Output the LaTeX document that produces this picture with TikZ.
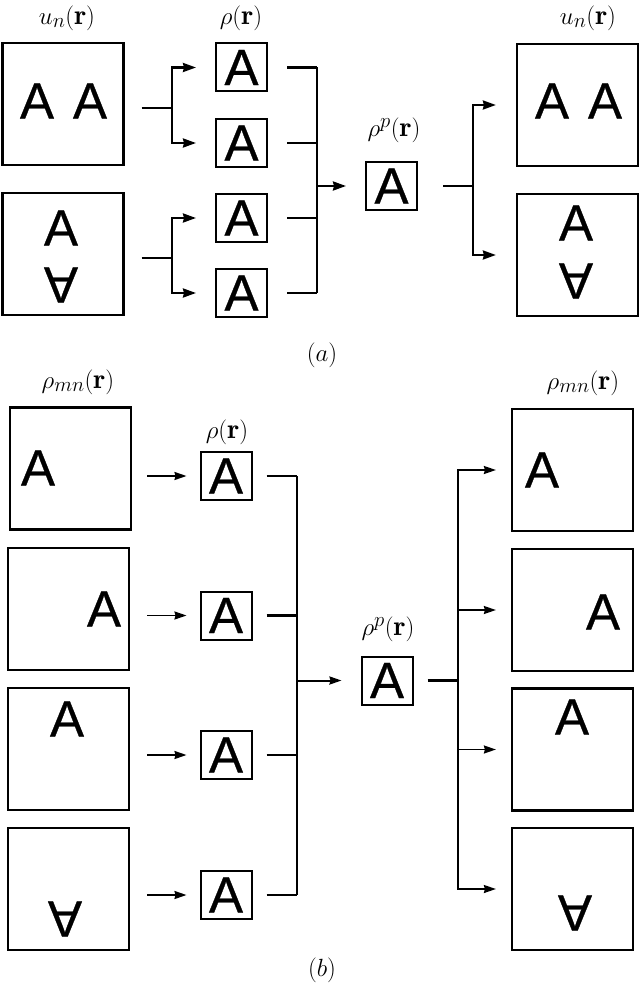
\documentclass[tikz,border=0pt]{standalone}
\usepackage{fontspec}
\usepackage{graphicx}
\newfontfamily\lettfont[FakeBold=0.6]{Liberation Sans}
\usetikzlibrary{arrows.meta,calc}
\newcommand{\bigA}{\lettfont\fontsize{51}{51}\selectfont A}
\newcommand{\flipA}{\rotatebox[origin=c]{180}{\lettfont\fontsize{51}{51}\selectfont A}}
\begin{document}
\begin{tikzpicture}[x=1pt,y=-1pt,
  bigbox/.style={draw,line width=2.2pt,minimum width=121pt,minimum height=122pt,inner sep=0pt},
  smallbox/.style={draw,line width=2pt,minimum width=51pt,minimum height=48pt,inner sep=0pt},
  letter/.style={inner sep=0pt},
  lab/.style={inner sep=0pt,font=\fontsize{28}{32}\selectfont},
  wire/.style={line width=2.3pt},
  arr/.style={line width=2.3pt,-{Stealth[length=13pt,width=9pt,inset=1pt]}},
  arrthin/.style={line width=1.7pt,-{Stealth[length=12pt,width=8pt,inset=1pt]}}
]
\useasboundingbox[fill=white] (0,0) rectangle (640,987);

% ---------------- (a) ----------------
\node[lab] (la1) at (67,18) {$u_n(\mathbf{r})$};
\node[lab] (la2) at (241,18) {$\rho(\mathbf{r})$};
\node[lab] (la3) at (394,130) {$\rho^p(\mathbf{r})$};
\node[lab] (la4) at (588,18) {$u_n(\mathbf{r})$};

\node[bigbox] (A1) at (63,104) {};
\node[bigbox] (A2) at (63,254) {};
\node[letter] (A1a) at (37,101) {\bigA};
\node[letter] (A1b) at (90,101) {\bigA};
\node[letter] (A2a) at (61,228) {\bigA};
\node[letter] (A2b) at (61,285) {\flipA};

\node[smallbox] (s1) at (241.5,67.5) {\bigA};
\node[smallbox] (s2) at (241.5,143) {\bigA};
\node[smallbox] (s3) at (241.5,218) {\bigA};
\node[smallbox] (s4) at (241.5,293) {\bigA};

\coordinate (j1) at (172,108);
\coordinate (j1b) at (172,258);
\draw[wire,shorten <=17pt] (A1.east |- j1) -- (j1);
\draw[wire] (s1.west -| j1) -- (s2.west -| j1);
\draw[arr,shorten >=19pt] (j1) |- (s1.west);
\draw[arr,shorten >=19pt] (j1) |- (s2.west);
\draw[wire,shorten <=17pt] (A2.east |- j1b) -- (j1b);
\draw[wire] (s3.west -| j1b) -- (s4.west -| j1b);
\draw[arr,shorten >=19pt] (j1b) |- (s3.west);
\draw[arr,shorten >=19pt] (j1b) |- (s4.west);

\node[smallbox] (P) at (391.5,186) {\bigA};
\coordinate (j2) at (317,186);
\foreach \s in {s1,s2,s3,s4}{
  \draw[wire,shorten <=19pt] (\s.east) -- (\s.east -| j2);
}
\draw[wire] (s1.east -| j2) -- (s4.east -| j2);
\draw[arr,shorten >=19pt] (j2) -- (P.west);

\node[bigbox] (R1) at (577.5,105) {};
\node[bigbox] (R2) at (577.5,255) {};
\node[letter] (R1a) at (552,101) {\bigA};
\node[letter] (R1b) at (605,101) {\bigA};
\node[letter] (R2a) at (576,223) {\bigA};
\node[letter] (R2b) at (576,281) {\flipA};

\coordinate (j3) at (473,186);
\draw[wire,shorten <=25pt] (P.east) -- (j3);
\draw[wire] (R1.west -| j3) -- (R2.west -| j3);
\draw[arr,shorten >=20pt] (j3) |- (R1.west);
\draw[arr,shorten >=20pt] (j3) |- (R2.west);

\node[lab] (capa) at (322,355) {$(a)$};

% ---------------- (b) ----------------
\node[lab] (lb1) at (78,382) {$\rho_{mn}(\mathbf{r})$};
\node[lab] (lb2) at (227,432) {$\rho(\mathbf{r})$};
\node[lab] (lb3) at (388,629) {$\rho^p(\mathbf{r})$};
\node[lab] (lb4) at (583,383) {$\rho_{mn}(\mathbf{r})$};

\node[bigbox] (L1) at (70.5,468.5) {};
\node[bigbox] (L2) at (68.5,609) {};
\node[bigbox] (L3) at (68.5,749) {};
\node[bigbox] (L4) at (68.5,889) {};
\node[letter] (L1a) at (38,468) {\bigA};
\node[letter] (L2a) at (104,609) {\bigA};
\node[letter] (L3a) at (67,719) {\bigA};
\node[letter] (L4a) at (65,919) {\flipA};

\node[smallbox] (t1) at (226,476) {\bigA};
\node[smallbox] (t2) at (226,615.5) {\bigA};
\node[smallbox] (t3) at (226,755) {\bigA};
\node[smallbox] (t4) at (226,895) {\bigA};

\draw[arrthin,shorten <=15pt,shorten >=13pt] (L1.east |- t1) -- (t1.west);
\draw[arrthin,shorten <=17pt,shorten >=13pt] (L2.east |- t2) -- (t2.west);
\draw[arrthin,shorten <=17pt,shorten >=13pt] (L3.east |- t3) -- (t3.west);
\draw[arrthin,shorten <=17pt,shorten >=13pt] (L4.east |- t4) -- (t4.west);

\node[smallbox] (Q) at (387,680.5) {\bigA};
\coordinate (j4) at (297,680.5);
\foreach \s in {t1,t2,t3,t4}{
  \draw[wire,shorten <=14pt] (\s.east) -- (\s.east -| j4);
}
\draw[wire] (t1.east -| j4) -- (t4.east -| j4);
\draw[arrthin,line width=2pt,shorten >=19pt] (j4) -- (Q.west);

\node[bigbox] (S1) at (572.5,470) {};
\node[bigbox] (S2) at (572.5,610) {};
\node[bigbox] (S3) at (572.5,749.5) {};
\node[bigbox] (S4) at (572.5,889) {};
\node[letter] (S1a) at (542,470) {\bigA};
\node[letter] (S2a) at (603,612) {\bigA};
\node[letter] (S3a) at (572,717) {\bigA};
\node[letter] (S4a) at (575,913) {\flipA};

\coordinate (j5) at (458,680.5);
\draw[wire,shorten <=14pt] (Q.east) -- (j5);
\draw[wire] (S1.west -| j5) -- (S4.west -| j5);
\foreach \s in {S1,S2,S3,S4}{
  \draw[arrthin,shorten >=15pt] (j5) |- (\s.west);
}

\node[lab] (capb) at (322,970) {$(b)$};
\end{tikzpicture}
\end{document}
